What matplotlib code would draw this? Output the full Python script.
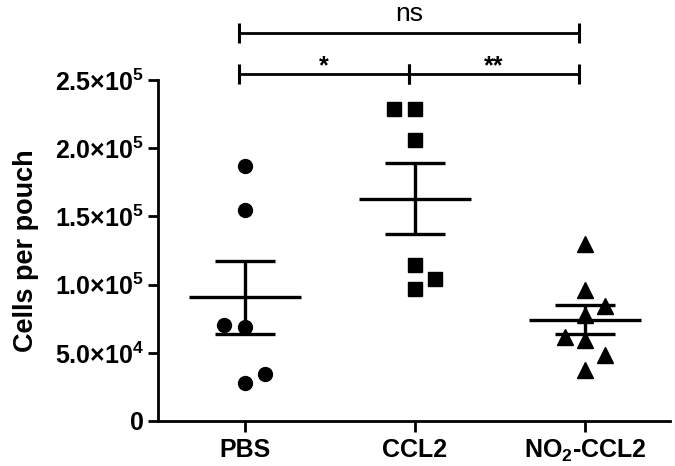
import numpy as np
import matplotlib
matplotlib.use("Agg")
import matplotlib.pyplot as plt

plt.rcParams['font.family'] = ['Liberation Sans', 'DejaVu Sans']
plt.rcParams['font.weight'] = 'bold'
plt.rcParams['mathtext.fontset'] = 'custom'
plt.rcParams['mathtext.rm'] = 'Liberation Sans:bold'
plt.rcParams['mathtext.it'] = 'Liberation Sans:bold'
plt.rcParams['mathtext.bf'] = 'Liberation Sans:bold'

# ---- data ----
categories = ["PBS", "CCL2", "NO$_2$-CCL2"]
pbs = [1.87e5, 1.547e5, 0.704e5, 0.69e5, 0.342e5, 0.281e5]
ccl2 = [2.285e5, 2.285e5, 2.06e5, 1.144e5, 1.041e5, 0.966e5]
no2_ccl2 = [1.299e5, 0.960e5, 0.843e5, 0.777e5, 0.618e5, 0.594e5, 0.484e5, 0.374e5]
groups = [pbs, ccl2, no2_ccl2]
yticks = [0, 5e4, 1e5, 1.5e5, 2e5, 2.5e5]
ytick_labels = ["0", "5.0×10$^4$", "1.0×10$^5$", "1.5×10$^5$", "2.0×10$^5$", "2.5×10$^5$"]
ylabel = "Cells per pouch"
comparisons = [(0, 2, "ns"), (0, 1, "*"), (1, 2, "**")]

# ---- layout / style ----
jitter = [
    [0, 0, -0.12, 0, 0.12, 0],
    [-0.12, 0, 0, 0, 0.12, 0],
    [0, 0, 0.12, 0, -0.12, 0, 0.12, 0],
]
markers = ['o', 's', '^']
msizes = [10, 10, 11.5]

fig = plt.figure(figsize=(6.75, 4.66), dpi=100)
ax = fig.add_axes([158/675, 1-421/466, (670-158)/675, (421-80)/466])

for i, (vals, offs) in enumerate(zip(groups, jitter)):
    x = i + np.array(offs)
    ax.plot(x, vals, linestyle='none', marker=markers[i], ms=msizes[i],
            color='black', mec='black', clip_on=False, zorder=3)
    v = np.array(vals)
    m = v.mean()
    sem = v.std(ddof=1) / np.sqrt(len(v))
    lw = 2.4
    ax.hlines(m, i - 0.33, i + 0.33, color='black', lw=lw, zorder=4)
    ax.hlines([m - sem, m + sem], i - 0.175, i + 0.175, color='black', lw=lw, zorder=4)
    ax.vlines(i, m - sem, m + sem, color='black', lw=lw, zorder=4)

ax.set_xlim(-0.51, 2.5)
ax.set_ylim(0, 2.5e5)
ax.set_xticks(range(len(categories)))
ax.set_xticklabels(categories, fontsize=18, fontweight='bold')
ax.set_yticks(yticks)
ax.set_yticklabels(ytick_labels, fontsize=18, fontweight='bold')
ax.tick_params(axis='y', length=7, width=2, pad=3)
ax.tick_params(axis='x', length=8, width=2, pad=4)
for s in ['top', 'right']:
    ax.spines[s].set_visible(False)
for s in ['left', 'bottom']:
    ax.spines[s].set_linewidth(2)
ax.set_ylabel(ylabel, fontsize=19.5, fontweight='bold')
ax.yaxis.set_label_coords(-0.232, 0.5)

# significance bars
shift = -0.035
bar_levels = {"ns": 2.845e5, "*": 2.544e5, "**": 2.544e5}
tick_h = 0.075e5
for a, b, lab in comparisons:
    y = bar_levels[lab]
    x0, x1 = a + shift, b + shift
    ax.plot([x0, x1], [y, y], color='black', lw=2, clip_on=False, solid_capstyle='butt')
    for xx in (x0, x1):
        ax.plot([xx, xx], [y - tick_h, y + tick_h], color='black', lw=2.2,
                clip_on=False, solid_capstyle='butt')
    if lab == "ns":
        ax.text((x0 + x1) / 2, y + 0.09e5, lab, ha='center', va='baseline',
                fontsize=19, fontweight='normal')
    else:
        ax.text((x0 + x1) / 2, y + 0.005e5, lab, ha='center', va='baseline',
                fontsize=18, fontweight='bold')

fig.savefig("out.png", dpi=100)
